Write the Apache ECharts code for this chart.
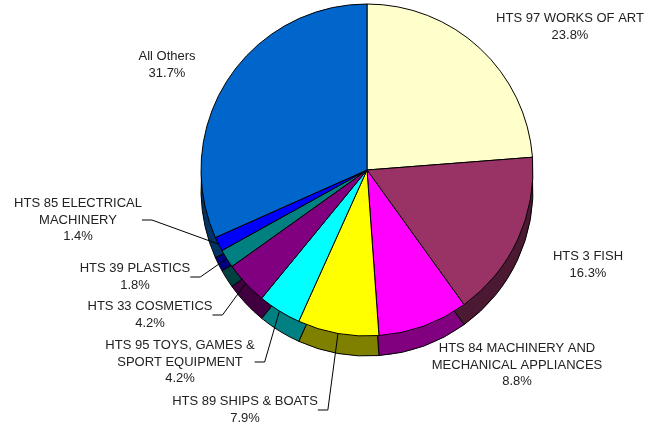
<!DOCTYPE html>
<html>
<head>
<meta charset="utf-8">
<script src="https://cdn.jsdelivr.net/npm/echarts@6/dist/echarts.min.js"></script>
<style>
  html, body { margin: 0; padding: 0; background: #fff; }
  #chart { width: 646px; height: 426px; }
</style>
</head>
<body>
<div id="chart"></div>
<script>
// shares, clockwise from 12 o'clock
var categories = [
  'HTS 97 WORKS OF ART',
  'HTS 3 FISH',
  'HTS 84 MACHINERY AND\nMECHANICAL APPLIANCES',
  'HTS 89 SHIPS & BOATS',
  'HTS 95 TOYS, GAMES &\nSPORT EQUIPMENT',
  'HTS 33 COSMETICS',
  'HTS 39 PLASTICS',
  'HTS 85 ELECTRICAL\nMACHINERY',
  'All Others'
];
var shares = [23.8, 16.3, 8.8, 7.9, 4.2, 4.2, 1.8, 1.4, 31.7];

var topColors  = ['#FFFFCC', '#993366', '#FF00FF', '#FFFF00', '#00FFFF', '#800080', '#008080', '#0000FF', '#0066CC'];
var sideColors = ['#7F7F66', '#4C1933', '#800080', '#808000', '#008080', '#400040', '#004040', '#000080', '#003366'];

// label block centres and which ones get a leader line
var labelPos = [[570, 27], [588, 265], [517, 365], [245, 410], [180, 362], [150, 315], [135, 277], [78, 220], [167, 65]];
var hasLine = [false, false, false, true, true, true, true, true, false];

var CX = 367, CY = 170, R = 166, DEPTH = 20;

var chart = echarts.init(document.getElementById('chart'));

var topData = categories.map(function(name, i) {
  return {
    name: name,
    value: shares[i],
    itemStyle: { color: topColors[i] },
    labelLine: { show: hasLine[i] }
  };
});
var sideData = categories.map(function(name, i) {
  return { name: name, value: shares[i], itemStyle: { color: sideColors[i] } };
});

chart.setOption({
  animation: false,
  series: [
    {
      // side of the disc
      type: 'pie',
      z: 1,
      silent: true,
      center: [CX, CY + DEPTH],
      radius: [0, R],
      startAngle: 90,
      label: { show: false },
      labelLine: { show: false },
      emphasis: { disabled: true },
      itemStyle: { borderColor: '#000', borderWidth: 1 },
      data: sideData
    },
    {
      type: 'pie',
      z: 5,
      center: [CX, CY],
      radius: [0, R],
      startAngle: 90,
      avoidLabelOverlap: false,
      emphasis: { disabled: true },
      itemStyle: { borderColor: '#000', borderWidth: 1 },
      label: {
        show: true,
        position: 'outside',
        formatter: '{b}\n{c}%',
        fontFamily: 'Liberation Sans, Arial, sans-serif',
        fontSize: 13,
        lineHeight: 16.5,
        color: '#222',
        align: 'center'
      },
      labelLine: {
        show: true,
        length: 10,
        length2: 10,
        lineStyle: { color: '#000', width: 1 }
      },
      labelLayout: function(params) {
        var p = labelPos[params.dataIndex];
        return { x: p[0], y: p[1], align: 'center', verticalAlign: 'middle', hideOverlap: false };
      },
      data: topData
    }
  ]
});
</script>
</body>
</html>
